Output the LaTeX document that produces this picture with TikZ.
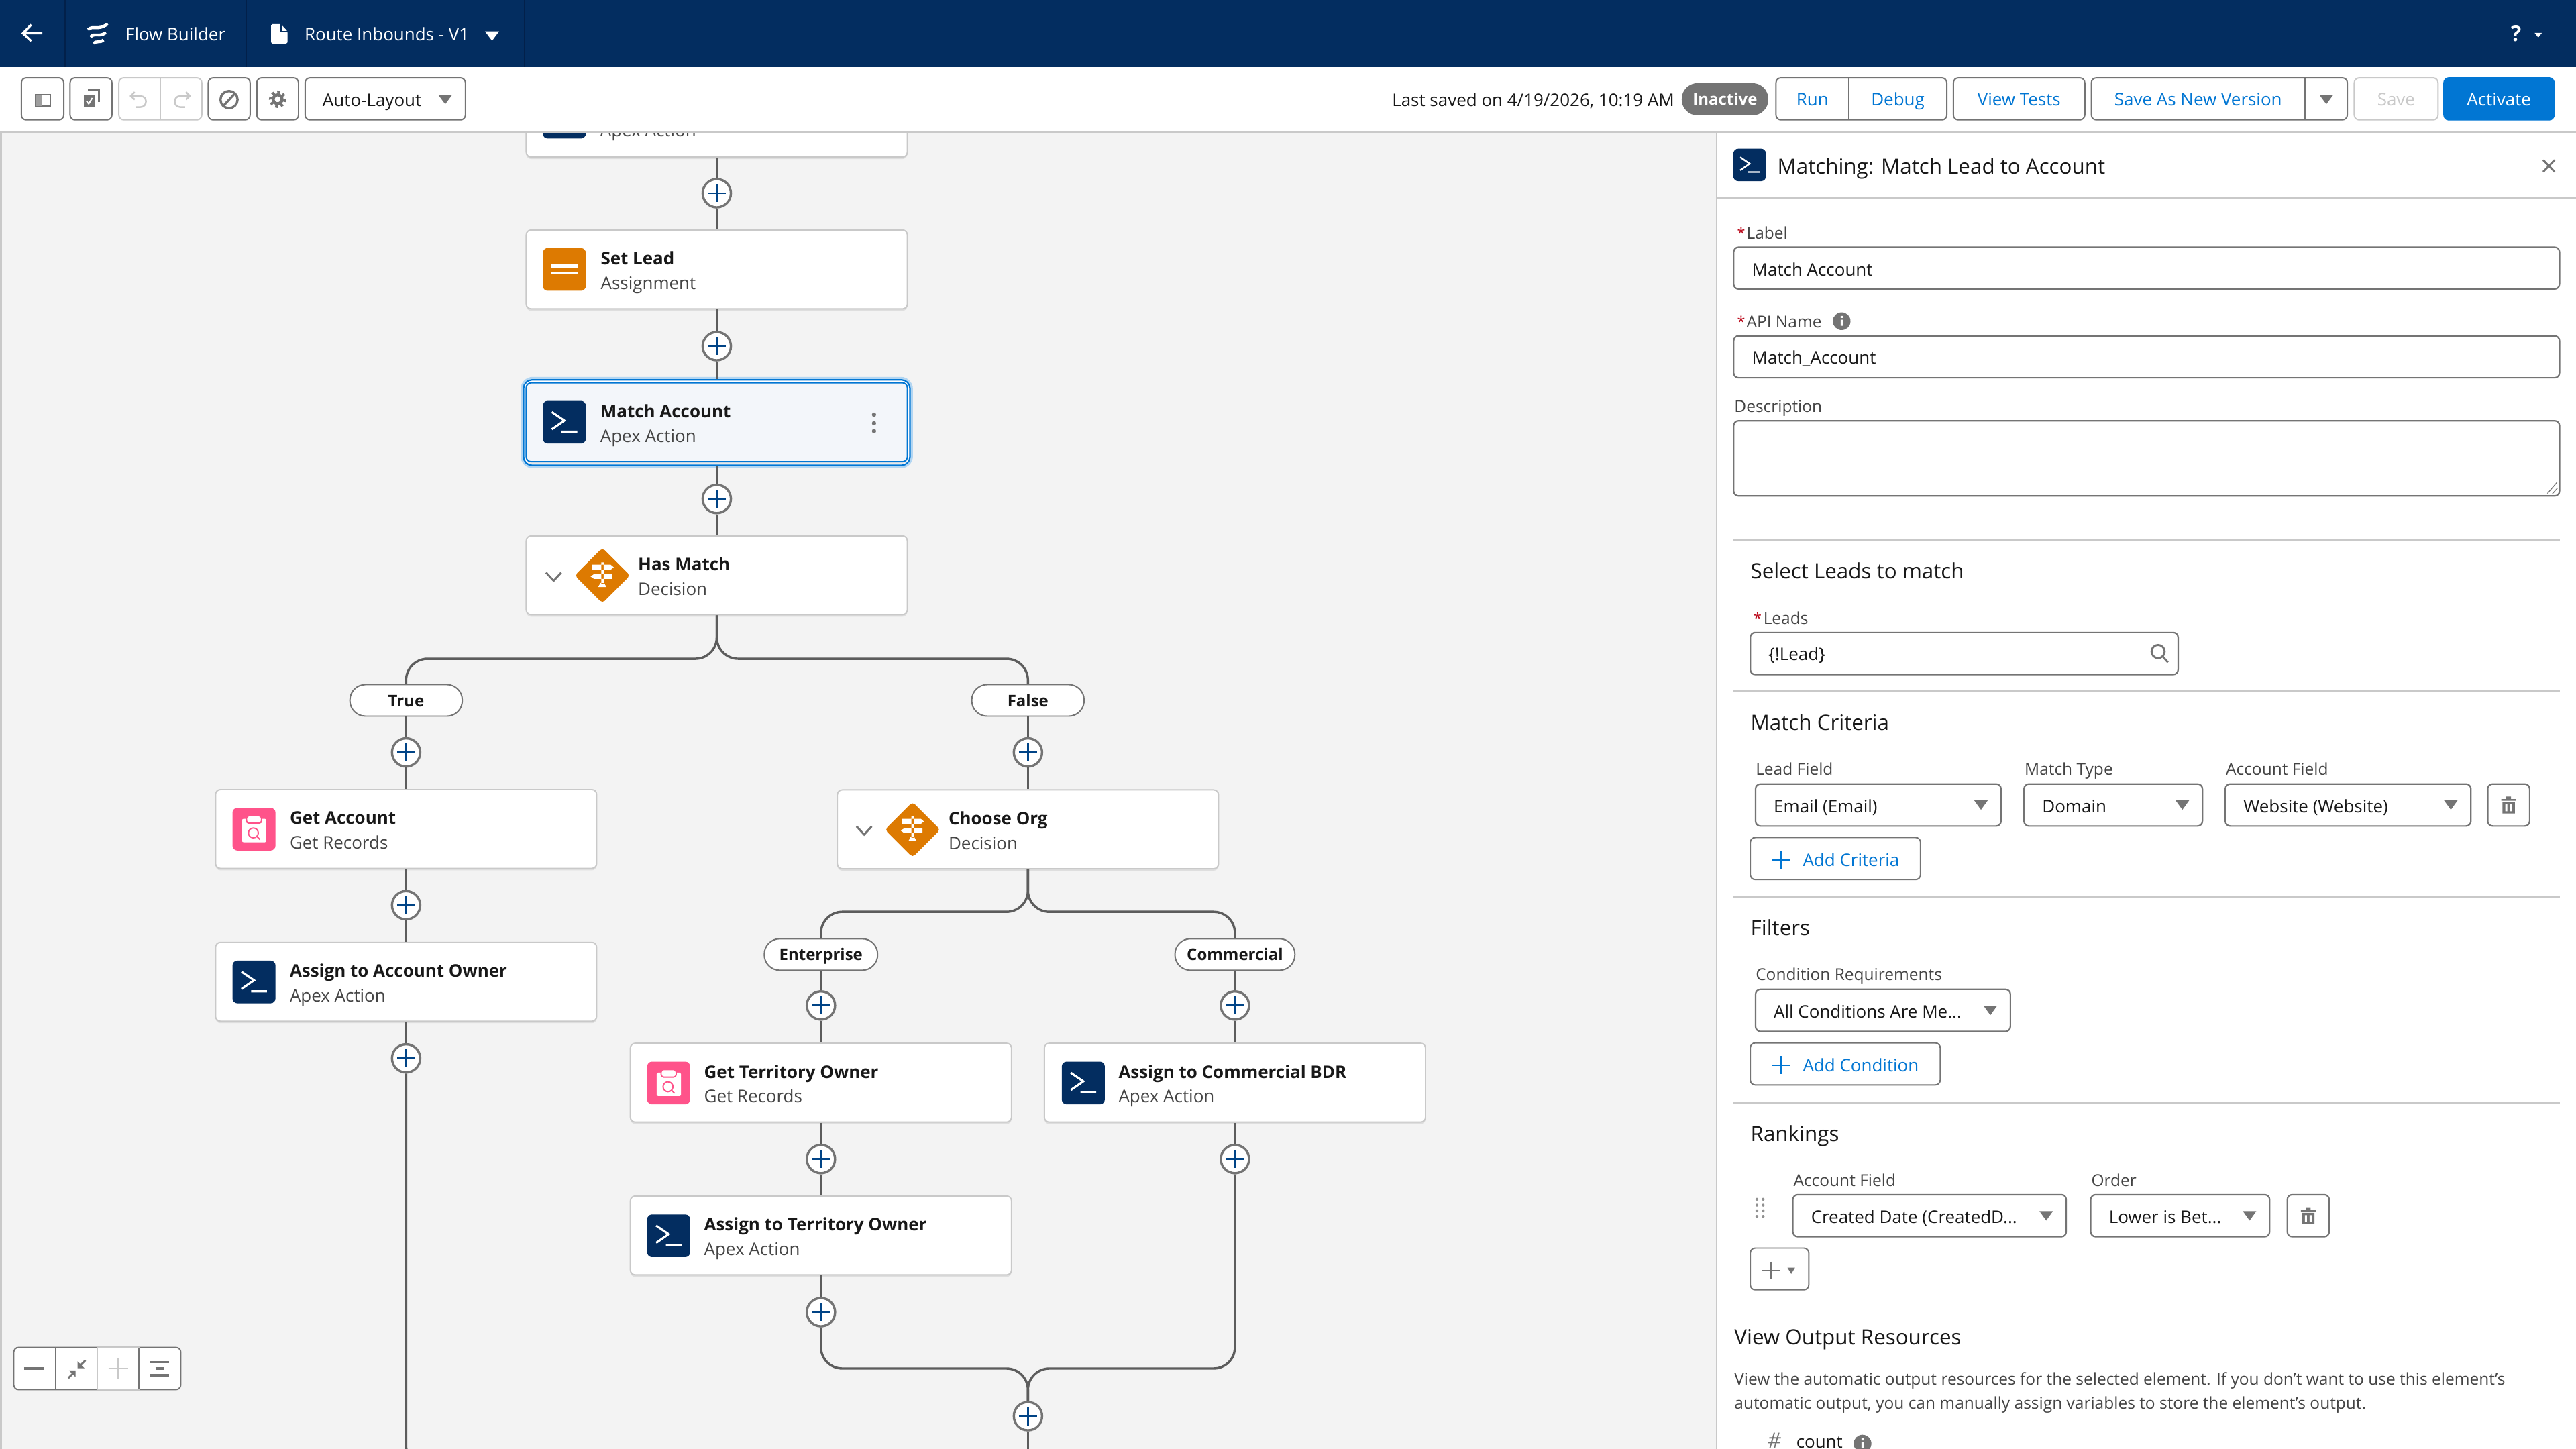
\documentclass[tikz,border=0pt]{standalone}
\usepackage{fontspec}
\setmainfont{Open Sans}
\usepackage{tikz}
\usetikzlibrary{calc,shadows,shapes.geometric}
\definecolor{navy}{HTML}{032D60}
\definecolor{navyline}{HTML}{02204A}
\definecolor{canvas}{HTML}{F3F3F3}
\definecolor{ink}{HTML}{181818}
\definecolor{subink}{HTML}{444444}
\definecolor{icongray}{HTML}{747474}
\definecolor{wiregray}{HTML}{5C5C5C}
\definecolor{rule}{HTML}{C9C9C9}
\definecolor{sfblue}{HTML}{0176D3}
\definecolor{plusblue}{HTML}{014486}
\definecolor{orange}{HTML}{DD7A01}
\definecolor{pink}{HTML}{FF538A}
\definecolor{picked}{HTML}{F3F6FA}
\definecolor{star}{HTML}{BA0517}
\newcommand{\fsbody}{\fontsize{5.3}{6.5}\selectfont}
\newcommand{\fslabel}{\fontsize{5}{6}\selectfont}
\newcommand{\fshead}{\fontsize{6.4}{8}\selectfont}
\newcommand{\fspill}{\fontsize{4.9}{6}\selectfont}
\newcommand{\fsstar}{\fontsize{4.4}{6}\selectfont}
\tikzset{
    boxw/.style = {minimum width=(#1)*0.5pt},
    boxh/.style = {minimum height=(#1)*0.5pt},
    txt/.style = {anchor=west, inner sep=0pt, text height=5.5pt, text depth=1.3pt, font=\fsbody, text=ink},
    lbl/.style = {txt, text depth=1.7pt, font=\fslabel, text=subink},
    head/.style = {anchor=west, inner sep=0pt, text height=6.6pt, text depth=1.8pt, font=\fshead, text=ink},
    starmark/.style = {txt, font=\fsstar, text=star},
    card/.style = {draw=rule, fill=white, rectangle, rounded corners=1.5pt, line width=.4pt,
        minimum width=116pt, minimum height=24pt, inner sep=0pt,
        drop shadow={opacity=.18, shadow xshift=0pt, shadow yshift=-.6pt}},
    cardtitle/.style = {txt, font=\fsbody\bfseries},
    cardsub/.style = {txt, text=subink},
    iconbox/.style = {rectangle, rounded corners=1.5pt, inner sep=0pt, minimum width=13.1pt, minimum height=13pt},
    decbox/.style = {diamond, fill=orange, rounded corners=1pt, inner sep=0pt, minimum size=17pt},
    glyph/.style = {draw=white, line width=.65pt},
    addnode/.style = {draw=icongray, fill=white, circle, line width=.7pt, inner sep=0pt, minimum size=8.6pt},
    addglyph/.style = {draw=plusblue, line width=.6pt},
    wire/.style = {draw=wiregray, line width=.7pt},
    pill/.style = {draw=icongray, fill=white, rectangle, rounded corners=4.7pt, line width=.4pt, inner sep=0pt,
        minimum height=9.6pt, text height=3.7pt, text depth=0pt, font=\fspill\bfseries, text=ink},
    btn/.style = {draw=icongray, fill=white, rectangle, rounded corners=1.5pt, line width=.4pt, inner sep=0pt,
        minimum height=12.8pt, text height=4.3pt, text depth=0pt, font=\fsbody, text=sfblue},
    btnoff/.style = {btn, draw=rule, text=rule},
    btntext/.style = {inner sep=0pt, text height=4.3pt, text depth=0pt, font=\fsbody, text=sfblue},
    field/.style = {draw=icongray, fill=white, rectangle, rounded corners=1.5pt, line width=.45pt, inner sep=0pt},
    divider/.style = {draw=rule, line width=.5pt},
    tool/.style = {draw=icongray, line width=.5pt},
    toolfaint/.style = {draw=rule, line width=.5pt}
}
\newcommand{\flowcard}[6]{
    \node[card] (#1) at (#2,#3) {};
    \node[cardtitle] (#1t) at ([shift={(#4,-7)}]#1.center) {#5};
    \node[cardsub] (#1s) at ([shift={(#4,8)}]#1.center) {#6};
}
\newcommand{\apexicon}[4]{
    \node[iconbox, fill=navy, boxw=26.2*#4, boxh=26*#4] (#1) at (#2,#3) {};
    \draw[glyph, line width=#4*.65pt, shift={(#2,#3)}, scale=#4] (-7.6,-6.2) -- (0,-1) -- (-7.6,4.3) (-1.7,5.7) -- (7.9,5.7);
}
\newcommand{\assignicon}[3]{
    \node[iconbox, fill=orange] (#1) at (#2,#3) {};
    \draw[glyph, line width=.9pt, shift={(#2,#3)}] (-7.9,-2.1) -- (7.9,-2.1) (-7.9,2.3) -- (7.9,2.3);
}
\newcommand{\recordicon}[3]{
    \node[iconbox, fill=pink] (#1) at (#2,#3) {};
    \begin{scope}[shift={(#2,#3)}]
        \fill[white, rounded corners=.5pt] (-7.3,-6.3) rectangle (7.5,8);
        \fill[white, draw=pink, line width=.4pt, rounded corners=.8pt] (-4.6,-8.2) rectangle (4.6,-3.6);
        \draw[pink, line width=.4pt] (-.4,2.3) circle (3) (1.8,4.5) -- (3.6,6.3);
    \end{scope}
}
\newcommand{\decicon}[3]{
    \node[decbox] (#1) at (#2,#3) {};
    \fill[white, shift={(#2,#3)}] (-.7,-8) rectangle (.7,5) (-6.4,-6.6) -- (5,-6.6) -- (6.9,-5) -- (5,-3.5) -- (-6.4,-3.5) -- cycle
        (-5.2,-.8) -- (6,-.8) -- (6,2) -- (-5.2,2) -- (-7.2,.6) -- cycle (-2.6,7) -- (-1.2,4.5) -- (1,4.5) -- (2.4,7) -- cycle;
}
\newcommand{\fold}[2]{
    \draw[icongray, line width=.6pt, shift={(#1,#2)}] (-4.6,-2.5) -- (0,2.5) -- (4.6,-2.5);
}
\newcommand{\addbtn}[3]{
    \node[addnode] (#1) at (#2,#3) {};
    \draw[addglyph, shift={(#2,#3)}] (-5.5,0) -- (5.5,0) (0,-5.5) -- (0,5.5);
}
\newcommand{\combo}[5]{
    \node[field, boxw=#3-#2, boxh=25.6] (#1) at ({(#2+#3)/2},#4) {};
    \node[txt] (#1t) at (#2+10.7,#4+.4) {#5};
    \fill[icongray, shift={(#3-12.2,#4)}] (-4.1,-2.8) -- (4.1,-2.8) -- (0,2.9) -- cycle;
}
\newcommand{\trash}[3]{
    \node[field, boxw=25.5, boxh=25.6] (#1) at (#2,#3) {};
    \fill[icongray, shift={(#2,#3)}] (-4.5,-3.6) rectangle (4.5,-2.6) (-1.4,-5.2) rectangle (1.4,-3.6) (-3.8,-1.8) rectangle (3.8,5.2);
    \fill[white, shift={(#2,#3)}] (-2,-.4) rectangle (-.8,3.8) (.8,-.4) rectangle (2,3.8);
}
\newcommand{\infodot}[3]{
    \node[circle, fill=icongray, inner sep=0pt, minimum size=5.4pt] (#1) at (#2,#3) {};
    \fill[white, shift={(#2,#3)}] (-.6,-3.2) rectangle (.6,-2) (-.6,-.9) rectangle (.6,2.8);
}
\begin{document}
\begin{tikzpicture}[x=.5pt,y=-.5pt]
    \useasboundingbox (0,0) rectangle (1568,882);
    \fill[canvas] (0,0) rectangle (1568,882);
    \draw[rule, line width=.6pt] (.6,80) -- (.6,882);

    % flow cards
    \node[card] (topcard) at (436.3,71.6) {};
    \apexicon{topicon}{343.5}{71.3}{1}
    \node[cardsub] (topcards) at (365,79) {Apex Action};
    \flowcard{setlead}{436.3}{164}{-71}{Set Lead}{Assignment}
    \assignicon{setleadicon}{343.5}{164}
    \node[draw=sfblue!30, rectangle, rounded corners=3pt, line width=1.4pt, minimum width=118pt, minimum height=26.4pt] (matchglow) at (436.3,257.2) {};
    \node[draw=sfblue, fill=white, rectangle, rounded corners=2.6pt, line width=.45pt, minimum width=117.6pt, minimum height=26pt] (matchring) at (436.3,257.2) {};
    \node[card, draw=sfblue, fill=picked, drop shadow={opacity=0}] (matchcard) at (436.3,257) {};
    \node[cardtitle] (matchcardt) at (365,250) {Match Account};
    \node[cardsub] (matchcards) at (365,265) {Apex Action};
    \apexicon{matchicon}{343.5}{257}{1}
    \fill[icongray] (532,252.4) circle (1.3) (532,257.6) circle (1.3) (532,262.4) circle (1.3);
    \flowcard{hasmatch}{436.3}{350.2}{-48.3}{Has Match}{Decision}
    \decicon{hasmatchicon}{366.7}{350.3}
    \fold{337}{351}

    \node[pill, boxw=68.4] (pilltrue) at (247.2,426.3) {True};
    \node[pill, boxw=68.4] (pillfalse) at (625.7,426.3) {False};
    \flowcard{getaccount}{247.2}{504.6}{-71.2}{Get Account}{Get Records}
    \recordicon{getaccounticon}{154.6}{504.7}
    \flowcard{assignowner}{247.2}{597.6}{-71.2}{Assign to Account Owner}{Apex Action}
    \apexicon{assignownericon}{154.6}{597.7}{1}
    \flowcard{chooseorg}{625.7}{504.8}{-48.7}{Choose Org}{Decision}
    \decicon{chooseorgicon}{555.5}{505}
    \fold{526}{505.5}

    \node[pill, boxw=69] (pillent) at (499.7,581) {Enterprise};
    \node[pill, boxw=73] (pillcom) at (751.7,581) {Commercial};
    \flowcard{getterritory}{499.7}{659}{-71.5}{Get Territory Owner}{Get Records}
    \recordicon{getterritoryicon}{407}{659.2}
    \flowcard{assignterritory}{499.7}{752}{-71.5}{Assign to Territory Owner}{Apex Action}
    \apexicon{assignterritoryicon}{407}{752.2}{1}
    \flowcard{assignbdr}{751.7}{659}{-71.2}{Assign to Commercial BDR}{Apex Action}
    \apexicon{assignbdricon}{659.4}{659.2}{1}

    % add buttons
    \addbtn{plustop}{436.3}{117.6}
    \addbtn{plusset}{436.3}{210.7}
    \addbtn{plusmatch}{436.3}{303.7}
    \addbtn{plustrue}{247.2}{458}
    \addbtn{plusget}{247.2}{551}
    \addbtn{plusowner}{247.2}{644.2}
    \addbtn{plusfalse}{625.7}{458}
    \addbtn{plusent}{499.7}{612}
    \addbtn{pluscom}{751.7}{612}
    \addbtn{plusterr}{499.7}{705.5}
    \addbtn{plusbdr}{751.7}{705.5}
    \addbtn{plusassign}{499.7}{798.7}
    \addbtn{plusmerge}{625.7}{862}

    % connectors
    \coordinate (jmatch) at (436.3,401);
    \coordinate (jorg) at (625.7,555);
    \coordinate (jmerge) at (625.7,833);
    \coordinate (endmerge) at (625.7,884);
    \coordinate (bendleft) at (247.2,892);
    \coordinate (bendright) at (262,892);
    \draw[wire] (topcard.south) -- (plustop);
    \draw[wire] (plustop) -- (setlead.north);
    \draw[wire] (setlead.south) -- (plusset);
    \draw[wire] (plusset) -- (matchring.north);
    \draw[wire] (matchring.south) -- (plusmatch);
    \draw[wire] (plusmatch) -- (hasmatch.north);
    \draw[wire, rounded corners=6.5pt] (hasmatch.south) -- (jmatch) -| (pilltrue.north);
    \draw[wire, rounded corners=6.5pt] (hasmatch.south) -- (jmatch) -| (pillfalse.north);
    \draw[wire] (pilltrue.south) -- (plustrue);
    \draw[wire] (plustrue) -- (getaccount.north);
    \draw[wire] (getaccount.south) -- (plusget);
    \draw[wire] (plusget) -- (assignowner.north);
    \draw[wire] (assignowner.south) -- (plusowner);
    \draw[wire, rounded corners=6pt] (plusowner) -- (bendleft) -- (bendright);
    \draw[wire] (pillfalse.south) -- (plusfalse);
    \draw[wire] (plusfalse) -- (chooseorg.north);
    \draw[wire, rounded corners=6.5pt] (chooseorg.south) -- (jorg) -| (pillent.north);
    \draw[wire, rounded corners=6.5pt] (chooseorg.south) -- (jorg) -| (pillcom.north);
    \draw[wire] (pillent.south) -- (plusent);
    \draw[wire] (plusent) -- (getterritory.north);
    \draw[wire] (getterritory.south) -- (plusterr);
    \draw[wire] (plusterr) -- (assignterritory.north);
    \draw[wire] (assignterritory.south) -- (plusassign);
    \draw[wire] (pillcom.south) -- (pluscom);
    \draw[wire] (pluscom) -- (assignbdr.north);
    \draw[wire] (assignbdr.south) -- (plusbdr);
    \draw[wire, rounded corners=6.5pt] (plusassign.south) |- (jmerge) -- (plusmerge.north);
    \draw[wire, rounded corners=6.5pt] (plusbdr.south) |- (jmerge) -- (plusmerge.north);
    \draw[wire] (plusmerge.south) -- (endmerge);

    % zoom controls
    \node[btn, boxw=101.7, boxh=25.7] (zoomgroup) at (59.2,833) {};
    \node[rectangle, draw=rule, fill=white, line width=.4pt, inner sep=0pt, boxw=25.4, boxh=25.7] (zoomin) at (72,833) {};
    \draw[tool, line width=.4pt] (34,820.2) -- (34,845.8) (84.7,820.2) -- (84.7,845.8);
    \draw[tool, line width=.7pt] (14.6,833) -- (27,833);
    \draw[tool, line width=.6pt] (41.6,838.8) -- (44.6,835.8) (52,828) -- (49,831);
    \fill[icongray] (46,834.2) -- (46,838.2) -- (42,834.2) -- cycle (47.2,832.8) -- (47.2,828.6) -- (51.4,832.8) -- cycle;
    \draw[toolfaint, line width=.6pt] (66,833) -- (78,833) (72,827) -- (72,839);
    \draw[tool, line width=.7pt] (91.6,829) -- (103,829) (94.6,833) -- (100,833) (91.6,837) -- (103,837);

    % top bar and toolbar
    \fill[white] (0,40) rectangle (1568,80);
    \draw[divider, line width=.7pt] (0,80.4) -- (1568,80.4);
    \fill[navy] (0,0) rectangle (1568,40.8);
    \draw[navyline, line width=.4pt] (39.6,0) -- (39.6,40.8) (150,0) -- (150,40.8) (319.3,0) -- (319.3,40.8);
    \draw[white, line width=.7pt] (25.8,20.2) -- (14,20.2) (19,15) -- (14,20.2) -- (19,25);
    \draw[white, line width=.9pt] (53.5,18) .. controls (57,15) and (59,19) .. (65.6,14.5);
    \draw[white, line width=.9pt] (55,22.5) .. controls (58,19.5) and (60,23) .. (64.5,19.8);
    \draw[white, line width=.9pt] (57,26.5) .. controls (59,24.3) and (60.5,26.5) .. (63,24.3);
    \node[txt, text=white] (flowbuilder) at (76,20.6) {Flow Builder};
    \fill[white, rounded corners=.4pt] (165,14.7) -- (171,14.7) -- (175,19) -- (175,26.5) -- (165,26.5) -- cycle;
    \draw[navy, line width=.3pt] (171,14.7) -- (171,19) -- (175,19);
    \node[txt, text=white] (routename) at (185,20.6) {Route Inbounds - V1};
    \fill[white] (295.2,19) -- (303.8,19) -- (299.5,24.8) -- cycle;
    \node[txt, font=\fontsize{6.5}{8}\selectfont\bfseries, text=white] (helpmark) at (1528,21) {?};
    \fill[white] (1542.8,20) -- (1547.2,20) -- (1545,22.8) -- cycle;

    \node[btn, boxw=25.8, boxh=25.6] (paneltoggle) at (25.9,60.2) {};
    \node[btn, boxw=25.5, boxh=25.6] (checkcopy) at (55.4,60.2) {};
    \node[btnoff, boxw=50.5, boxh=25.6] (undogroup) at (97.6,60.2) {};
    \draw[toolfaint, line width=.4pt] (97.6,47.4) -- (97.6,73);
    \node[btn, boxw=25.5, boxh=25.6] (stopbtn) at (139.5,60.2) {};
    \node[btn, boxw=25.4, boxh=25.6] (gearbtn) at (169,60.2) {};
    \node[btn, boxw=97.6, boxh=25.6, text=ink] (autolayout) at (234.5,60.2) {};
    \node[txt] (autolayoutt) at (196,60.4) {Auto-Layout};
    \fill[icongray] (267,58) -- (275,58) -- (271,63.4) -- cycle;
    \draw[tool] (21.8,57.6) rectangle (30.6,64.6);
    \fill[icongray!70] (21.8,57.6) rectangle (25.2,64.6);
    \draw[tool] (53.6,54.8) -- (60.2,54.8) -- (60.2,62);
    \fill[icongray] (51,57.4) rectangle (57.6,65.4);
    \draw[white, line width=.4pt] (52.6,61.4) -- (54,63.2) -- (56.2,59.6);
    \draw[toolfaint] (82,56) -- (79.6,58.4) -- (82,60.6) (80,58.4) -- (85.6,58.4) .. controls (90,58.6) and (90,65.2) .. (85.2,65.2) -- (82.6,65.2);
    \draw[toolfaint] (113.2,56) -- (115.6,58.4) -- (113.2,60.6) (115.2,58.4) -- (109.6,58.4) .. controls (105.2,58.6) and (105.2,65.2) .. (110,65.2) -- (112.6,65.2);
    \draw[tool, line width=.7pt] (139.4,60.6) circle (5.2) (136,64.4) -- (143,56.8);
    \draw[tool, line width=.9pt] (169,60.4) circle (2.7);
    \draw[tool, line width=.9pt, dash pattern=on .8pt off .9pt] (169,60.4) circle (4.4);
    \node[txt] (lastsaved) at (847,60.4) {Last saved on 4/19/2026, 10:19 AM};
    \node[fill=icongray, rectangle, rounded corners=4.8pt, inner sep=0pt, boxw=52.7, boxh=19.6, text height=3.7pt, text depth=0pt, font=\fspill\bfseries, text=white] (inactive) at (1050,60.4) {Inactive};
    \node[btn, boxw=104, boxh=25.6] (rungroup) at (1133,60.2) {};
    \node[btntext] (runbtn) at (1103.2,60.2) {Run};
    \node[btntext] (debugbtn) at (1155.2,60.2) {Debug};
    \draw[tool, line width=.4pt] (1125.5,47.4) -- (1125.5,73);
    \node[btn, boxw=80, boxh=25.6] (testsbtn) at (1229,60.2) {View Tests};
    \node[btn, boxw=155.8, boxh=25.6] (versiongroup) at (1350.9,60.2) {};
    \node[btntext] (newversion) at (1338,60.2) {Save As New Version};
    \draw[tool, line width=.4pt] (1403,47.4) -- (1403,73);
    \fill[icongray] (1412,58) -- (1420,58) -- (1416,63.4) -- cycle;
    \node[btnoff, boxw=51, boxh=25.6] (savebtn) at (1458.5,60.2) {Save};
    \node[btn, draw=sfblue, fill=sfblue, text=white, boxw=67, boxh=25.6] (activate) at (1521.1,60.2) {Activate};

    % side panel
    \fill[white] (1045,81) rectangle (1568,882);
    \draw[rule, line width=.3pt] (1045,81) -- (1045,882);
    \apexicon{panelicon}{1065}{100.4}{.76}
    \node[head] (paneltitle) at (1081.5,101) {Matching: Match Lead to Account};
    \draw[tool, line width=.6pt] (1548,97.4) -- (1555,104.6) (1555,97.4) -- (1548,104.6);
    \draw[divider] (1045,120.4) -- (1568,120.4);

    \node[starmark] (labelstar) at (1057,141) {*};
    \node[lbl] (labeltext) at (1062.7,141.7) {Label};
    \node[field, boxw=502.7, boxh=25.5] (labelbox) at (1306.6,163.2) {};
    \node[txt] (labelvalue) at (1066,163.7) {Match Account};
    \node[starmark] (apistar) at (1057,194.8) {*};
    \node[lbl] (apitext) at (1062.7,195.5) {API Name};
    \infodot{apiinfo}{1121}{195.5}
    \node[field, boxw=502.7, boxh=25.5] (apibox) at (1306.6,217.2) {};
    \node[txt] (apivalue) at (1066,217.5) {Match\_Account};
    \node[lbl] (desctext) at (1055.3,247) {Description};
    \node[field, boxw=502.7, boxh=45.8] (descbox) at (1306.6,279) {};
    \draw[icongray, line width=.25pt] (1556.4,293.6) -- (1550.6,300.4) (1556.6,297.2) -- (1553.6,300.6);
    \draw[divider] (1055,328.7) -- (1558,328.7);

    \node[head] (leadshead) at (1065.2,347.5) {Select Leads to match};
    \node[starmark] (leadsstar) at (1067,375.3) {*};
    \node[lbl] (leadstext) at (1073,376) {Leads};
    \node[field, boxw=260.4, boxh=25.6] (leadsbox) at (1195.6,397.8) {};
    \node[txt] (leadsvalue) at (1076,398) {\{!Lead\}};
    \draw[tool, line width=.6pt] (1313.6,396.6) circle (4) (1316.4,399.6) -- (1319.6,403.2);
    \draw[divider] (1055,420.8) -- (1558,420.8);

    \node[head] (criteriahead) at (1065.2,439.6) {Match Criteria};
    \node[lbl] (leadfield) at (1068.3,468) {Lead Field};
    \node[lbl] (matchtype) at (1232,468) {Match Type};
    \node[lbl] (accountfield) at (1354.5,468) {Account Field};
    \combo{emailbox}{1068.6}{1218}{490}{Email (Email)}
    \combo{domainbox}{1232}{1340.6}{490}{Domain}
    \combo{websitebox}{1354.5}{1504}{490}{Website (Website)}
    \trash{criteriatrash}{1527}{490}
    \node[btn, boxw=103.6, boxh=25.6] (addcriteria) at (1117.2,522.6) {};
    \draw[sfblue, line width=.55pt] (1078.8,523.4) -- (1089.8,523.4) (1084.3,517.9) -- (1084.3,528.9);
    \node[txt, text=sfblue] (addcriteriat) at (1097,523) {Add Criteria};
    \draw[divider] (1055,545.7) -- (1558,545.7);

    \node[head] (filtershead) at (1065.2,564.8) {Filters};
    \node[lbl] (condreq) at (1068.3,593) {Condition Requirements};
    \combo{condbox}{1068.6}{1223.7}{615}{All Conditions Are Me...}
    \node[btn, boxw=115.6, boxh=25.6] (addcondition) at (1123.2,647.6) {};
    \draw[sfblue, line width=.55pt] (1078.8,648.4) -- (1089.8,648.4) (1084.3,642.9) -- (1084.3,653.9);
    \node[txt, text=sfblue] (addconditiont) at (1097,648) {Add Condition};
    \draw[divider] (1055,671) -- (1558,671);

    \node[head] (rankhead) at (1065.2,689.9) {Rankings};
    \node[lbl] (rankfield) at (1091.3,718.3) {Account Field};
    \node[lbl] (ordertext) at (1272.6,718.3) {Order};
    \fill[icongray!80] (1069.4,730) circle (.9) (1073.2,730) circle (.9) (1069.4,733.6) circle (.9) (1073.2,733.6) circle (.9)
        (1069.4,737) circle (.9) (1073.2,737) circle (.9) (1069.4,740.4) circle (.9) (1073.2,740.4) circle (.9);
    \combo{rankbox}{1091.3}{1257.7}{740}{Created Date (CreatedD...}
    \combo{orderbox}{1272.6}{1381.5}{740}{Lower is Bet...}
    \trash{ranktrash}{1405}{740}
    \node[btn, boxw=35.6, boxh=25.4] (addrank) at (1083.2,772.4) {};
    \draw[icongray, line width=.5pt] (1072.6,773.4) -- (1083.4,773.4) (1078,768) -- (1078,778.8);
    \fill[icongray] (1088,771.6) -- (1092.6,771.6) -- (1090.3,775.4) -- cycle;

    \node[head] (outputhead) at (1055.3,813.8) {View Output Resources};
    \node[lbl] (outputline) at (1055.3,839.3) {View the automatic output resources for the selected element. If you don’t want to use this element’s};
    \node[lbl] (outputlinetwo) at (1055.3,854) {automatic output, you can manually assign variables to store the element’s output.};
    \node[anchor=base west, inner sep=0pt, font=\fshead\itshape, text=icongray, text depth=0pt] (hashmark) at (1075.4,881.4) {\#};
    \node[anchor=base west, inner sep=0pt, font=\fsbody, text=ink, text depth=0pt] (countname) at (1093,881.4) {count};
    \infodot{countinfo}{1133.7}{878.7}
\end{tikzpicture}
\end{document}
